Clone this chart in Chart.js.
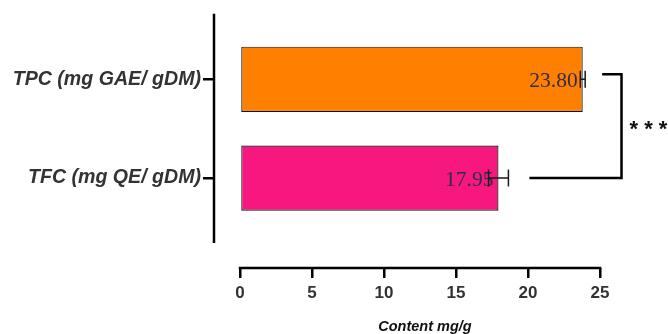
<!DOCTYPE html>
<html lang="en">
<head>
    <meta charset="UTF-8">
    <title>Content mg/g</title>
    <script src="https://cdn.jsdelivr.net/npm/chart.js"></script>
    <style>
        html, body { margin: 0; padding: 0; background: #fff; }
        #wrap { width: 668px; height: 334px; }
    </style>
</head>
<body>
    <div id="wrap"><canvas id="contentChart" width="668" height="334"></canvas></div>

    <script>
        // data
        const categories = ['TPC (mg GAE/ gDM)', 'TFC (mg QE/ gDM)'];
        const means = [23.80, 17.95];
        const errors = [0.17, 0.69];
        const valueLabels = ['23.80', '17.95'];
        const xTicks = [0, 5, 10, 15, 20, 25];
        const xTitle = 'Content mg/g';
        const significance = '* * *';

        const barColors = ['#ff7f00', '#f6177f'];

        const errorBarPlugin = {
            id: 'errorBars',
            afterDatasetsDraw(chart) {
                const ctx = chart.ctx;
                const xs = chart.scales.x;
                const ys = chart.scales.y;
                const area = chart.chartArea;
                const ends = [];

                ctx.save();
                means.forEach((m, i) => {
                    const y = ys.getPixelForValue(i + 1);
                    const xEnd = xs.getPixelForValue(m);
                    const lo = xs.getPixelForValue(m - errors[i]);
                    const hi = xs.getPixelForValue(m + errors[i]);

                    // value label
                    ctx.font = '21.5px "Liberation Serif", "Times New Roman", serif';
                    ctx.fillStyle = '#2e2e48';
                    ctx.textAlign = 'right';
                    ctx.textBaseline = 'alphabetic';
                    ctx.fillText(valueLabels[i], xEnd - 5, y + 8);

                    // error bar
                    ctx.strokeStyle = '#1a1a1a';
                    ctx.lineWidth = 1.5;
                    ctx.beginPath();
                    ctx.moveTo(lo, y); ctx.lineTo(hi, y);
                    ctx.moveTo(lo, y - 8.5); ctx.lineTo(lo, y + 8.5);
                    ctx.moveTo(hi, y - 8.5); ctx.lineTo(hi, y + 8.5);
                    ctx.stroke();
                    ends.push(hi);
                });

                // significance bracket
                const y1 = ys.getPixelForValue(1) - 5;
                const y2 = ys.getPixelForValue(2);
                const bx = area.right + 21.5;
                ctx.strokeStyle = '#000';
                ctx.lineWidth = 2.5;
                ctx.beginPath();
                ctx.moveTo(ends[0] + 17, y1);
                ctx.lineTo(bx, y1);
                ctx.lineTo(bx, y2);
                ctx.lineTo(ends[1] + 21, y2);
                ctx.stroke();

                ctx.font = 'bold 22px "Liberation Sans", Arial, sans-serif';
                ctx.fillStyle = '#111';
                ctx.textAlign = 'left';
                ctx.textBaseline = 'middle';
                ctx.fillText(significance, bx + 8, (y1 + y2) / 2 + 4);

                // detached axis lines
                ctx.strokeStyle = '#000';
                ctx.lineWidth = 2.5;
                ctx.beginPath();
                ctx.moveTo(area.left, area.top);
                ctx.lineTo(area.left, area.bottom - 25);
                ctx.moveTo(xs.getPixelForValue(xTicks[0]) - 1.25, area.bottom);
                ctx.lineTo(xs.getPixelForValue(xTicks[xTicks.length - 1]) + 1.25, area.bottom);
                ctx.stroke();

                // x title, centred under the 0..25 axis line
                const midX = (xs.getPixelForValue(xTicks[0]) + xs.getPixelForValue(xTicks[xTicks.length - 1])) / 2;
                ctx.font = 'italic bold 14.5px "Liberation Sans", Arial, sans-serif';
                ctx.fillStyle = '#111';
                ctx.textAlign = 'center';
                ctx.textBaseline = 'middle';
                ctx.fillText(xTitle, midX + 5, chart.height - 7);
                ctx.restore();
            }
        };

        const ctxContent = document.getElementById('contentChart').getContext('2d');

        const contentChart = new Chart(ctxContent, {
            type: 'bar',
            data: {
                datasets: [{
                    data: means.map((m, i) => ({ x: m, y: i + 1 })),
                    backgroundColor: barColors,
                    borderColor: '#111',
                    borderWidth: 1.2,
                    borderSkipped: false,
                    barPercentage: 0.66,
                    categoryPercentage: 1
                }]
            },
            options: {
                responsive: false,
                animation: false,
                indexAxis: 'y',
                layout: { padding: { top: 12, right: 68, left: 0, bottom: 0 } },
                plugins: {
                    legend: { display: false },
                    tooltip: { enabled: false }
                },
                scales: {
                    x: {
                        type: 'linear',
                        min: -1.806,
                        max: 25,
                        offset: false,
                        afterBuildTicks: (scale) => { scale.ticks = xTicks.map(v => ({ value: v })); },
                        afterFit: (scale) => { scale.height = 66; },
                        border: { display: false },
                        grid: { offset: false, drawOnChartArea: false, drawTicks: true, tickLength: 10, color: '#000', lineWidth: 2.5 },
                        ticks: {
                            autoSkip: false,
                            maxRotation: 0,
                            padding: 5,
                            color: '#333',
                            font: { family: '"Liberation Sans", Arial, sans-serif', size: 17, weight: 'bold' }
                        }
                    },
                    y: {
                        type: 'linear',
                        reverse: true,
                        min: 0.337,
                        max: 2.91,
                        offset: false,
                        afterBuildTicks: (scale) => { scale.ticks = categories.map((c, i) => ({ value: i + 1 })); },
                        afterFit: (scale) => { scale.width = 214; },
                        border: { display: false },
                        grid: { offset: false, drawOnChartArea: false, drawTicks: true, tickLength: 11, color: '#000', lineWidth: 2.5 },
                        ticks: {
                            padding: 2,
                            color: '#333',
                            callback: (v) => categories[Math.round(v) - 1],
                            font: { family: '"Liberation Sans", Arial, sans-serif', size: 19.6, weight: 'bold', style: 'italic' }
                        }
                    }
                }
            },
            plugins: [errorBarPlugin]
        });
    </script>
</body>
</html>
